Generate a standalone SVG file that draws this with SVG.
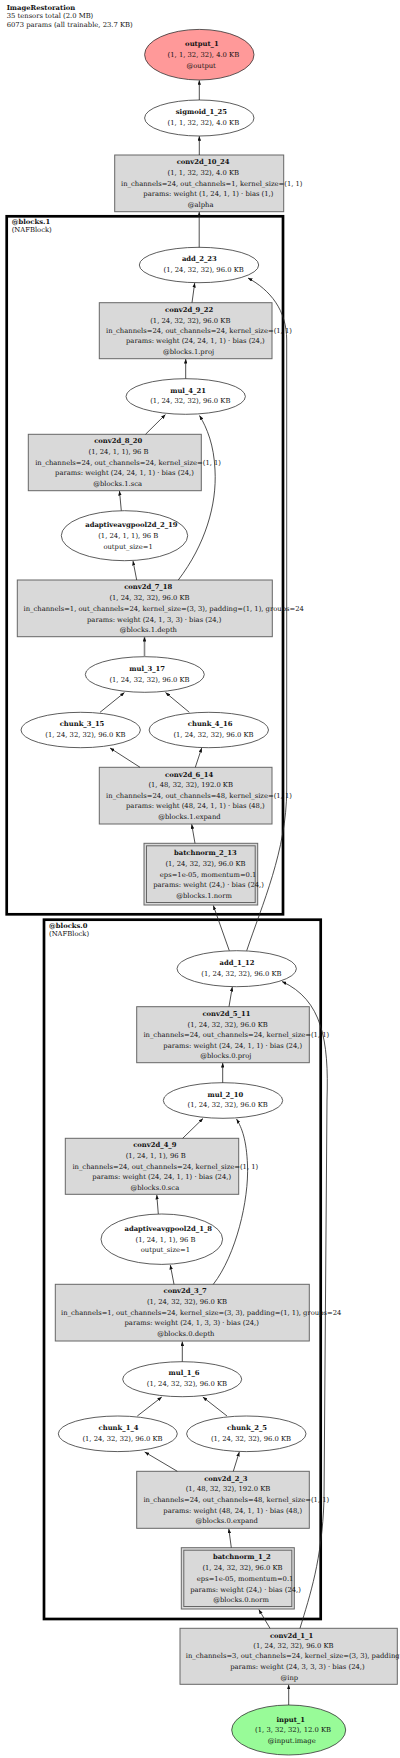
<svg xmlns="http://www.w3.org/2000/svg" width="400" height="1758" viewBox="0 0 400 1758">
<style>
text{font-family:"DejaVu Serif","Liberation Serif",serif;font-size:6.8px;fill:#111}
.b{font-weight:bold}
.box{fill:#d9d9d9;stroke:#666;stroke-width:1}
.ell{fill:#fff;stroke:#333;stroke-width:0.8}
.cl{fill:none;stroke:#000;stroke-width:2.7}
.e{fill:none;stroke:#222;stroke-width:0.8;marker-end:url(#ah)}
</style>
<defs>
<marker id="ah" viewBox="0 0 9 7" refX="9" refY="3.5" markerWidth="4.5" markerHeight="3.5" markerUnits="userSpaceOnUse" orient="auto"><path d="M0,0 L9,3.5 L0,7 z" fill="#111"/></marker>
</defs>
<rect width="400" height="1758" fill="#fff"/>
<g id="header">
<text x="6.7" y="9.8" class="b">ImageRestoration</text>
<text x="6.7" y="18.2">35 tensors total (2.0 MB)</text>
<text x="6.7" y="26.6">6073 params (all trainable, 23.7 KB)</text>
</g>
<g id="cluster_blocks1">
<rect class="cl" x="6.7" y="216.3" width="276.3" height="698"/>
<text x="11.7" y="223.5" class="b">@blocks.1</text>
<text x="11.7" y="231.5">(NAFBlock)</text>
</g>
<g id="cluster_blocks0">
<rect class="cl" x="44" y="919.7" width="276.7" height="699.3"/>
<text x="49" y="927.5" class="b">@blocks.0</text>
<text x="49" y="935.5">(NAFBlock)</text>
</g>
<g id="output_1">
<ellipse cx="199.3" cy="54.7" rx="54.7" ry="25.3" fill="#ff9999" stroke="#333" stroke-width="0.8"/>
<text x="185.1" y="46.2" class="b">output_1</text>
<text x="167.6" y="56.8">(1, 1, 32, 32), 4.0 KB</text>
<text x="186.4" y="67.5">@output</text>
</g>
<g id="sigmoid_1_25">
<ellipse class="ell" cx="199.3" cy="118" rx="54.7" ry="18"/>
<text x="175.8" y="113.8" class="b">sigmoid_1_25</text>
<text x="167.6" y="124.5">(1, 1, 32, 32), 4.0 KB</text>
</g>
<g id="conv2d_10_24">
<rect class="box" x="114.7" y="155" width="169" height="56.7"/>
<text x="176.7" y="164.2" class="b">conv2d_10_24</text>
<text x="167.5" y="174.8">(1, 1, 32, 32), 4.0 KB</text>
<text x="121" y="185.5">in_channels=24, out_channels=1, kernel_size=(1, 1)</text>
<text x="143.3" y="196.2">params: weight (1, 24, 1, 1) · bias (1,)</text>
<text x="187.7" y="206.5">@alpha</text>
</g>
<g id="add_2_23">
<ellipse class="ell" cx="199" cy="265" rx="59.7" ry="17.7"/>
<text x="181.9" y="260.8" class="b">add_2_23</text>
<text x="163.5" y="271.5">(1, 24, 32, 32), 96.0 KB</text>
</g>
<g id="conv2d_9_22">
<rect class="box" x="99.3" y="302.7" width="172.7" height="56"/>
<text x="165.1" y="311.5" class="b">conv2d_9_22</text>
<text x="150.2" y="322.5">(1, 24, 32, 32), 96.0 KB</text>
<text x="106.1" y="332.8">in_channels=24, out_channels=24, kernel_size=(1, 1)</text>
<text x="126" y="343.2">params: weight (24, 24, 1, 1) · bias (24,)</text>
<text x="162.9" y="354.2">@blocks.1.proj</text>
</g>
<g id="mul_4_21">
<ellipse class="ell" cx="185.7" cy="396.5" rx="59.7" ry="17.8"/>
<text x="170.2" y="392.5" class="b">mul_4_21</text>
<text x="150.2" y="403.2">(1, 24, 32, 32), 96.0 KB</text>
</g>
<g id="conv2d_8_20">
<rect class="box" x="28.3" y="434.3" width="173" height="56.4"/>
<text x="94.2" y="442.5" class="b">conv2d_8_20</text>
<text x="88.5" y="454.2">(1, 24, 1, 1), 96 B</text>
<text x="35.2" y="464.8">in_channels=24, out_channels=24, kernel_size=(1, 1)</text>
<text x="55.1" y="475.2">params: weight (24, 24, 1, 1) · bias (24,)</text>
<text x="93.2" y="485.8">@blocks.1.sca</text>
</g>
<g id="adaptiveavgpool2d_2_19">
<ellipse class="ell" cx="124.5" cy="535.7" rx="63.2" ry="25"/>
<text x="85.3" y="526.5" class="b">adaptiveavgpool2d_2_19</text>
<text x="98.2" y="537.8">(1, 24, 1, 1), 96 B</text>
<text x="103.4" y="548.5">output_size=1</text>
</g>
<g id="conv2d_7_18">
<rect class="box" x="17.3" y="580" width="255" height="56.7"/>
<text x="124.2" y="589.2" class="b">conv2d_7_18</text>
<text x="109.4" y="599.5">(1, 24, 32, 32), 96.0 KB</text>
<text x="23.5" y="610.8">in_channels=1, out_channels=24, kernel_size=(3, 3), padding=(1, 1), groups=24</text>
<text x="87" y="621.5">params: weight (24, 1, 3, 3) · bias (24,)</text>
<text x="119.7" y="631.8">@blocks.1.depth</text>
</g>
<g id="mul_3_17">
<ellipse class="ell" cx="144.8" cy="674.5" rx="59.5" ry="17.8"/>
<text x="129.3" y="670.8" class="b">mul_3_17</text>
<text x="109.4" y="681.5">(1, 24, 32, 32), 96.0 KB</text>
</g>
<g id="chunk_3_15">
<ellipse class="ell" cx="80.7" cy="730" rx="59.7" ry="17.7"/>
<text x="59.7" y="726.2" class="b">chunk_3_15</text>
<text x="45.3" y="736.8">(1, 24, 32, 32), 96.0 KB</text>
</g>
<g id="chunk_4_16">
<ellipse class="ell" cx="208.8" cy="730" rx="59.7" ry="17.7"/>
<text x="187.8" y="726.2" class="b">chunk_4_16</text>
<text x="173.4" y="736.8">(1, 24, 32, 32), 96.0 KB</text>
</g>
<g id="conv2d_6_14">
<rect class="box" x="99.3" y="767.3" width="172.7" height="56.7"/>
<text x="165.1" y="776.5" class="b">conv2d_6_14</text>
<text x="148.4" y="787.2">(1, 48, 32, 32), 192.0 KB</text>
<text x="106.1" y="797.8">in_channels=24, out_channels=48, kernel_size=(1, 1)</text>
<text x="126" y="808.2">params: weight (48, 24, 1, 1) · bias (48,)</text>
<text x="158.2" y="818.5">@blocks.1.expand</text>
</g>
<g id="batchnorm_2_13">
<rect class="box" x="144" y="843.3" width="113.7" height="61.7"/>
<rect class="box" x="146.5" y="845.8" width="108.7" height="56.7"/>
<text x="174" y="854.8" class="b">batchnorm_2_13</text>
<text x="165.4" y="865.8">(1, 24, 32, 32), 96.0 KB</text>
<text x="159.8" y="876.5">eps=1e-05, momentum=0.1</text>
<text x="153.2" y="887.2">params: weight (24,) · bias (24,)</text>
<text x="176.2" y="897.5">@blocks.1.norm</text>
</g>
<g id="add_1_12">
<ellipse class="ell" cx="236.7" cy="968.7" rx="59.7" ry="18"/>
<text x="219.6" y="964.8" class="b">add_1_12</text>
<text x="201.3" y="975.5">(1, 24, 32, 32), 96.0 KB</text>
</g>
<g id="conv2d_5_11">
<rect class="box" x="136.7" y="1006.7" width="172.6" height="56"/>
<text x="202.4" y="1015.8" class="b">conv2d_5_11</text>
<text x="187.5" y="1026.5">(1, 24, 32, 32), 96.0 KB</text>
<text x="143.4" y="1036.8">in_channels=24, out_channels=24, kernel_size=(1, 1)</text>
<text x="163.3" y="1047.5">params: weight (24, 24, 1, 1) · bias (24,)</text>
<text x="200.2" y="1058.2">@blocks.0.proj</text>
</g>
<g id="mul_2_10">
<ellipse class="ell" cx="223" cy="1100.5" rx="59.7" ry="17.8"/>
<text x="207.5" y="1096.5" class="b">mul_2_10</text>
<text x="187.5" y="1107.2">(1, 24, 32, 32), 96.0 KB</text>
</g>
<g id="conv2d_4_9">
<rect class="box" x="65.3" y="1138.3" width="173.4" height="56"/>
<text x="133.2" y="1147.2" class="b">conv2d_4_9</text>
<text x="125.7" y="1157.8">(1, 24, 1, 1), 96 B</text>
<text x="72.4" y="1168.5">in_channels=24, out_channels=24, kernel_size=(1, 1)</text>
<text x="92.3" y="1179.2">params: weight (24, 24, 1, 1) · bias (24,)</text>
<text x="130.4" y="1189.5">@blocks.0.sca</text>
</g>
<g id="adaptiveavgpool2d_1_8">
<ellipse class="ell" cx="161.8" cy="1239.2" rx="60.8" ry="25.2"/>
<text x="124.5" y="1230.8" class="b">adaptiveavgpool2d_1_8</text>
<text x="135.5" y="1241.5">(1, 24, 1, 1), 96 B</text>
<text x="140.7" y="1252.2">output_size=1</text>
</g>
<g id="conv2d_3_7">
<rect class="box" x="55.3" y="1284.3" width="254" height="56.7"/>
<text x="163.5" y="1293.2" class="b">conv2d_3_7</text>
<text x="146.9" y="1303.8">(1, 24, 32, 32), 96.0 KB</text>
<text x="61" y="1314.5">in_channels=1, out_channels=24, kernel_size=(3, 3), padding=(1, 1), groups=24</text>
<text x="124.5" y="1325.2">params: weight (24, 1, 3, 3) · bias (24,)</text>
<text x="157.2" y="1335.8">@blocks.0.depth</text>
</g>
<g id="mul_1_6">
<ellipse class="ell" cx="182.2" cy="1379.2" rx="59.5" ry="17.5"/>
<text x="168.6" y="1374.8" class="b">mul_1_6</text>
<text x="146.8" y="1385.5">(1, 24, 32, 32), 96.0 KB</text>
</g>
<g id="chunk_1_4">
<ellipse class="ell" cx="117.8" cy="1433.8" rx="59.5" ry="17.8"/>
<text x="98.6" y="1430.2" class="b">chunk_1_4</text>
<text x="82.4" y="1440.8">(1, 24, 32, 32), 96.0 KB</text>
</g>
<g id="chunk_2_5">
<ellipse class="ell" cx="246.3" cy="1433.8" rx="59.7" ry="17.8"/>
<text x="227.1" y="1430.2" class="b">chunk_2_5</text>
<text x="210.9" y="1440.8">(1, 24, 32, 32), 96.0 KB</text>
</g>
<g id="conv2d_2_3">
<rect class="box" x="136.7" y="1471.3" width="172.6" height="57"/>
<text x="204.2" y="1480.5" class="b">conv2d_2_3</text>
<text x="185.7" y="1491.2">(1, 48, 32, 32), 192.0 KB</text>
<text x="143.4" y="1501.8">in_channels=24, out_channels=48, kernel_size=(1, 1)</text>
<text x="163.3" y="1512.5">params: weight (48, 24, 1, 1) · bias (48,)</text>
<text x="195.5" y="1522.8">@blocks.0.expand</text>
</g>
<g id="batchnorm_1_2">
<rect class="box" x="181.3" y="1547.7" width="113" height="61.3"/>
<rect class="box" x="183.8" y="1550.2" width="108" height="56.3"/>
<text x="212.9" y="1559.2" class="b">batchnorm_1_2</text>
<text x="202.4" y="1569.8">(1, 24, 32, 32), 96.0 KB</text>
<text x="196.8" y="1580.8">eps=1e-05, momentum=0.1</text>
<text x="190.2" y="1591.5">params: weight (24,) · bias (24,)</text>
<text x="213.2" y="1601.5">@blocks.0.norm</text>
</g>
<g id="conv2d_1_1">
<rect class="box" x="180" y="1628.3" width="217.3" height="56"/>
<text x="269.9" y="1637.8" class="b">conv2d_1_1</text>
<text x="253.3" y="1648.2">(1, 24, 32, 32), 96.0 KB</text>
<text x="185.8" y="1658.2">in_channels=3, out_channels=24, kernel_size=(3, 3), padding=(1, 1)</text>
<text x="230.2" y="1669.2">params: weight (24, 3, 3, 3) · bias (24,)</text>
<text x="280.5" y="1679.5">@inp</text>
</g>
<g id="input_1">
<ellipse cx="288.7" cy="1730" rx="57" ry="25" fill="#98fb98" stroke="#333" stroke-width="0.8"/>
<text x="276.5" y="1721.8" class="b">input_1</text>
<text x="255.1" y="1732.2">(1, 3, 32, 32), 12.0 KB</text>
<text x="267.7" y="1742.5">@input.image</text>
</g>
<g id="connectors">
<path class="e" d="M199.3,100 L199.3,80.3"/>
<path class="e" d="M199.3,155 L199.3,136.2"/>
<path class="e" d="M199.2,247.3 L199.2,212"/>
<path class="e" d="M192,302.7 L194.7,283"/>
<path class="e" d="M246.7,950.7 C262,905 286.7,850 286.7,790 L286.7,340 C286.7,310 270,290 248,278"/>
<path class="e" d="M185.7,378.7 L185.7,359"/>
<path class="e" d="M145.5,434.3 L165.5,414.5"/>
<path class="e" d="M178.3,580 C205,545 217,505 215,470 C214,445 207,428 199.5,415.5"/>
<path class="e" d="M121.3,510.7 L119.5,491"/>
<path class="e" d="M136.7,580 L133,561"/>
<path class="e" d="M144.5,656.7 L144.5,637" style="stroke:#888;stroke-width:1.6"/>
<path class="e" d="M100,712.3 L124.5,692.5"/>
<path class="e" d="M189.3,712.3 L165.5,692.5"/>
<path class="e" d="M140,767.3 L110,748"/>
<path class="e" d="M195.3,767.3 L201.7,748"/>
<path class="e" d="M195,843.3 L191.7,824.3"/>
<path class="e" d="M229.3,950.7 L213.3,905.5"/>
<path class="e" d="M229,1006.7 L232.3,987"/>
<path class="e" d="M300,1628.3 C310,1595 322,1560 324,1500 L327,1100 C329,1040 322,1000 282,981.5"/>
<path class="e" d="M222.7,1082.7 L222.7,1063"/>
<path class="e" d="M182.7,1138.3 L203,1118.5"/>
<path class="e" d="M213.3,1284.3 C236,1255 249,1200 247.5,1165 C246.5,1140 242,1128 236.5,1119"/>
<path class="e" d="M158.3,1214 L156.8,1195"/>
<path class="e" d="M174,1284.3 L170.3,1265"/>
<path class="e" d="M182.3,1361.7 L182.3,1341.5"/>
<path class="e" d="M137.3,1416 L161.8,1397"/>
<path class="e" d="M227,1416 L202.8,1397"/>
<path class="e" d="M177.3,1471.3 L144.7,1452"/>
<path class="e" d="M233.3,1471.3 L239.3,1452"/>
<path class="e" d="M231.3,1547.7 L228.8,1528.8"/>
<path class="e" d="M270,1628.3 L258.8,1609.5"/>
<path class="e" d="M288.7,1705 L288.7,1684.8"/>
</g>
</svg>
